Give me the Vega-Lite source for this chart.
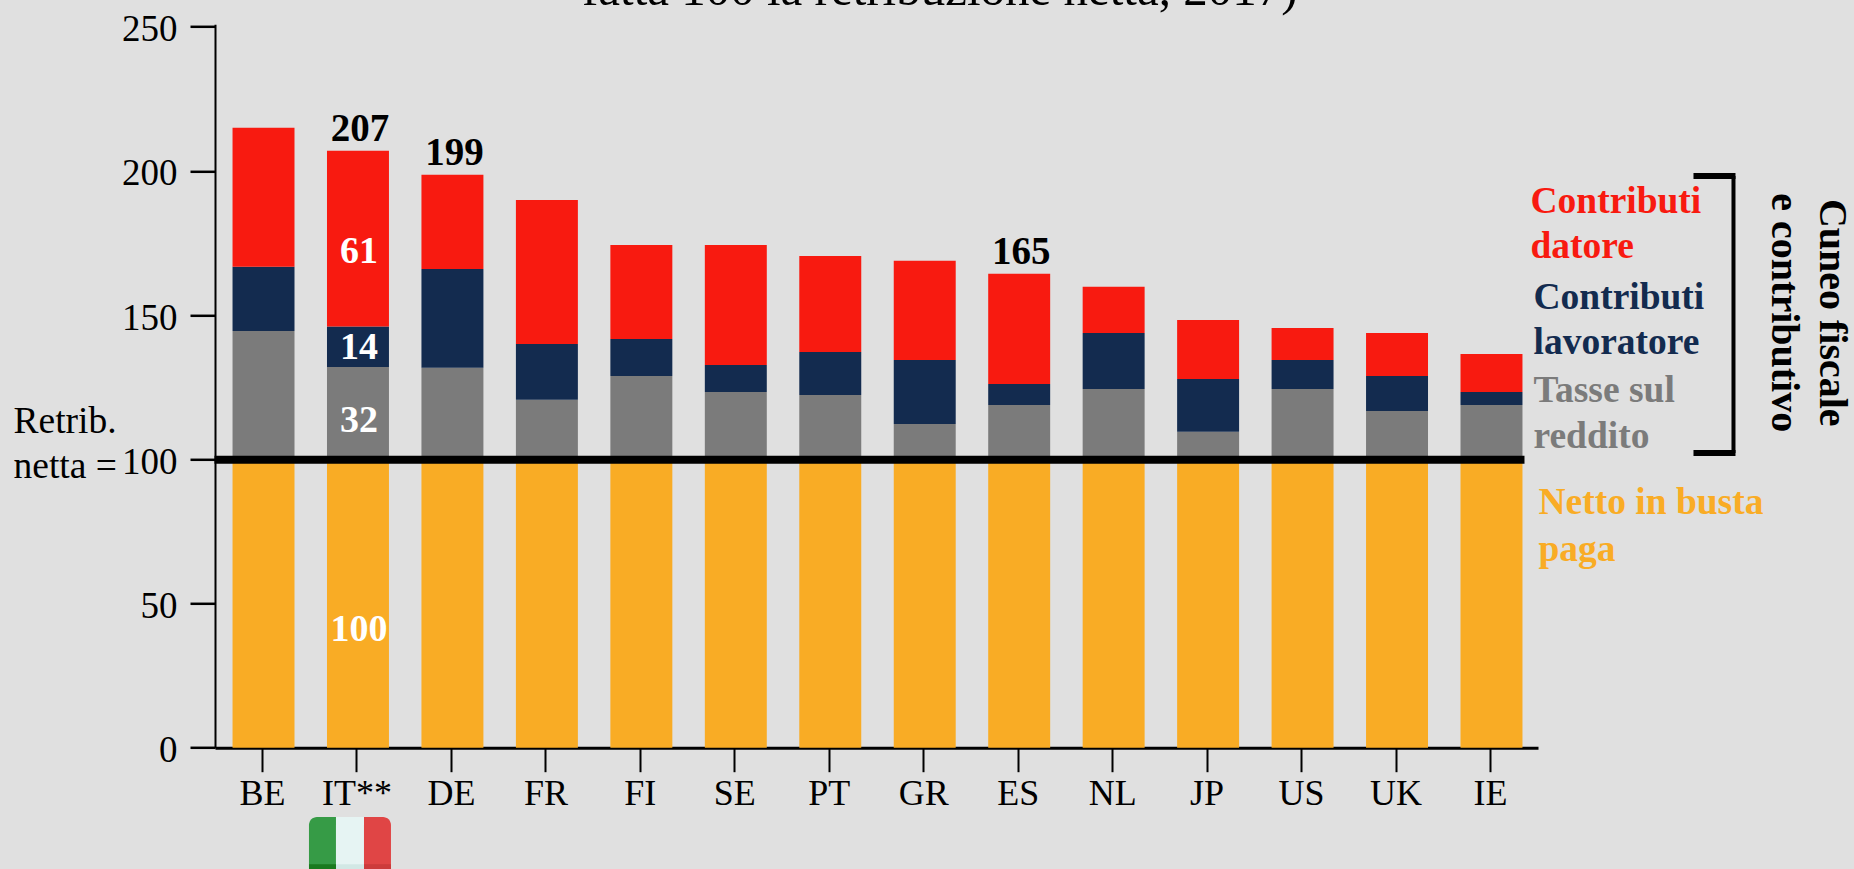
{
"$schema":"https://vega.github.io/schema/vega-lite/v6.json",
"autosize":{"type":"none"},
"padding":{"left":215,"top":24.3,"right":316,"bottom":121.6},
"width":1323,"height":723.4,
"background":"#E0E0E0",
"config":{"view":{"stroke":null},"text":{"font":"Liberation Serif"}},
"datasets":{
"barre":[
{"paese":"BE","componente":"Netto in busta paga","ordine":1,"valore":100},{"paese":"BE","componente":"Tasse sul reddito","ordine":2,"valore":44.5},{"paese":"BE","componente":"Contributi lavoratore","ordine":3,"valore":22.2},{"paese":"BE","componente":"Contributi datore","ordine":4,"valore":48.2},
{"paese":"IT**","componente":"Netto in busta paga","ordine":1,"valore":100},{"paese":"IT**","componente":"Tasse sul reddito","ordine":2,"valore":32},{"paese":"IT**","componente":"Contributi lavoratore","ordine":3,"valore":14},{"paese":"IT**","componente":"Contributi datore","ordine":4,"valore":61},
{"paese":"DE","componente":"Netto in busta paga","ordine":1,"valore":100},{"paese":"DE","componente":"Tasse sul reddito","ordine":2,"valore":31.7},{"paese":"DE","componente":"Contributi lavoratore","ordine":3,"valore":34.3},{"paese":"DE","componente":"Contributi datore","ordine":4,"valore":32.6},
{"paese":"FR","componente":"Netto in busta paga","ordine":1,"valore":100},{"paese":"FR","componente":"Tasse sul reddito","ordine":2,"valore":20.6},{"paese":"FR","componente":"Contributi lavoratore","ordine":3,"valore":19.4},{"paese":"FR","componente":"Contributi datore","ordine":4,"valore":49.9},
{"paese":"FI","componente":"Netto in busta paga","ordine":1,"valore":100},{"paese":"FI","componente":"Tasse sul reddito","ordine":2,"valore":28.9},{"paese":"FI","componente":"Contributi lavoratore","ordine":3,"valore":12.8},{"paese":"FI","componente":"Contributi datore","ordine":4,"valore":32.6},
{"paese":"SE","componente":"Netto in busta paga","ordine":1,"valore":100},{"paese":"SE","componente":"Tasse sul reddito","ordine":2,"valore":23.3},{"paese":"SE","componente":"Contributi lavoratore","ordine":3,"valore":9.4},{"paese":"SE","componente":"Contributi datore","ordine":4,"valore":41.6},
{"paese":"PT","componente":"Netto in busta paga","ordine":1,"valore":100},{"paese":"PT","componente":"Tasse sul reddito","ordine":2,"valore":22.3},{"paese":"PT","componente":"Contributi lavoratore","ordine":3,"valore":14.9},{"paese":"PT","componente":"Contributi datore","ordine":4,"valore":33.3},
{"paese":"GR","componente":"Netto in busta paga","ordine":1,"valore":100},{"paese":"GR","componente":"Tasse sul reddito","ordine":2,"valore":12.2},{"paese":"GR","componente":"Contributi lavoratore","ordine":3,"valore":22.2},{"paese":"GR","componente":"Contributi datore","ordine":4,"valore":34.4},
{"paese":"ES","componente":"Netto in busta paga","ordine":1,"valore":100},{"paese":"ES","componente":"Tasse sul reddito","ordine":2,"valore":18.8},{"paese":"ES","componente":"Contributi lavoratore","ordine":3,"valore":7.3},{"paese":"ES","componente":"Contributi datore","ordine":4,"valore":38.2},
{"paese":"NL","componente":"Netto in busta paga","ordine":1,"valore":100},{"paese":"NL","componente":"Tasse sul reddito","ordine":2,"valore":24.4},{"paese":"NL","componente":"Contributi lavoratore","ordine":3,"valore":19.4},{"paese":"NL","componente":"Contributi datore","ordine":4,"valore":16},
{"paese":"JP","componente":"Netto in busta paga","ordine":1,"valore":100},{"paese":"JP","componente":"Tasse sul reddito","ordine":2,"valore":9.5},{"paese":"JP","componente":"Contributi lavoratore","ordine":3,"valore":18.3},{"paese":"JP","componente":"Contributi datore","ordine":4,"valore":20.5},
{"paese":"US","componente":"Netto in busta paga","ordine":1,"valore":100},{"paese":"US","componente":"Tasse sul reddito","ordine":2,"valore":24.4},{"paese":"US","componente":"Contributi lavoratore","ordine":3,"valore":10},{"paese":"US","componente":"Contributi datore","ordine":4,"valore":11.1},
{"paese":"UK","componente":"Netto in busta paga","ordine":1,"valore":100},{"paese":"UK","componente":"Tasse sul reddito","ordine":2,"valore":16.7},{"paese":"UK","componente":"Contributi lavoratore","ordine":3,"valore":12.2},{"paese":"UK","componente":"Contributi datore","ordine":4,"valore":14.9},
{"paese":"IE","componente":"Netto in busta paga","ordine":1,"valore":100},{"paese":"IE","componente":"Tasse sul reddito","ordine":2,"valore":18.8},{"paese":"IE","componente":"Contributi lavoratore","ordine":3,"valore":4.5},{"paese":"IE","componente":"Contributi datore","ordine":4,"valore":13.2}
]},
"encoding":{
"x":{"field":"paese","type":"nominal","sort":null,"scale":{"domain":["BE","IT**","DE","FR","FI","SE","PT","GR","ES","NL","JP","US","UK","IE"],"paddingInner":0.344,"paddingOuter":0.175},
"axis":{"title":null,"labelAngle":0,"labelFont":"Liberation Serif","labelFontSize":36,"labelColor":"#000000","labelPadding":5,"tickSize":24,"tickWidth":2,"tickColor":"#000000","domainWidth":3,"domainColor":"#000000"}}
},
"layer":[
{"data":{"name":"barre"},"mark":{"type":"bar","clip":false,"xOffset":1},
"encoding":{
"y":{"field":"valore","type":"quantitative","stack":"zero","scale":{"domain":[0,250.8],"nice":false},
"axis":{"title":null,"values":[0,50,100,150,200,250],"grid":false,"labelFont":"Liberation Serif","labelFontSize":37,"labelColor":"#000000","labelPadding":13,"labelOffset":3,"tickSize":25,"tickWidth":2.5,"tickColor":"#000000","domainWidth":2,"domainColor":"#000000"}},
"color":{"field":"componente","type":"nominal","legend":null,"scale":{"domain":["Netto in busta paga","Tasse sul reddito","Contributi lavoratore","Contributi datore"],"range":["#F9AC25","#7B7B7B","#132B4F","#F81A10"]}},
"order":{"field":"ordine","type":"quantitative"}}},
{"data":{"values":[{"da":"BE","a":"IE","livello":99.8}]},"mark":{"type":"rule","color":"#000000","strokeWidth":8,"xOffset":-48,"x2Offset":34},
"encoding":{"x":{"field":"da"},"x2":{"field":"a"},"y":{"field":"livello","type":"quantitative"}}},
{"data":{"values":[{"paese":"IE","livello":198.2},{"paese":"IE","livello":102.2}]},"mark":{"type":"rule","color":"#000000","strokeWidth":6,"xOffset":203,"x2Offset":245},
"encoding":{"x":{"field":"paese"},"x2":{"field":"paese"},"y":{"field":"livello","type":"quantitative"}}},
{"data":{"values":[{"paese":"IE","sopra":198.2,"sotto":102.2}]},"mark":{"type":"rule","color":"#000000","strokeWidth":4,"xOffset":243},
"encoding":{"x":{"field":"paese"},"y":{"field":"sopra","type":"quantitative"},"y2":{"field":"sotto"}}},
{"data":{"values":[{"paese":"GR","riga":"fatta 100 la retribuzione netta, 2017)","livello":257.5}]},"mark":{"type":"text","fontSize":49,"color":"#000000","align":"center","baseline":"alphabetic","xOffset":16},
"encoding":{"y":{"field":"livello","type":"quantitative"},"text":{"field":"riga"}}},
{"data":{"values":[{"paese":"IT**","etichetta":"207","livello":210.5},{"paese":"DE","etichetta":"199","livello":202},{"paese":"ES","etichetta":"165","livello":167.7}]},"mark":{"type":"text","fontSize":39,"fontWeight":"bold","color":"#000000","align":"center","baseline":"alphabetic","xOffset":3},
"encoding":{"y":{"field":"livello","type":"quantitative"},"text":{"field":"etichetta"}}},
{"data":{"values":[{"paese":"IT**","etichetta":"61","livello":168},{"paese":"IT**","etichetta":"14","livello":134.8},{"paese":"IT**","etichetta":"32","livello":109.5},{"paese":"IT**","etichetta":"100","livello":37.1}]},"mark":{"type":"text","fontSize":38,"fontWeight":"bold","color":"#FFFFFF","align":"center","baseline":"alphabetic","xOffset":2},
"encoding":{"y":{"field":"livello","type":"quantitative"},"text":{"field":"etichetta"}}},
{"data":{"values":[{"paese":"IE","riga":"Contributi","componente":"Contributi datore","livello":185.4},{"paese":"IE","riga":"datore","componente":"Contributi datore","livello":169.8}]},"mark":{"type":"text","fontSize":37.5,"fontWeight":"bold","align":"left","baseline":"alphabetic","xOffset":40},
"encoding":{"y":{"field":"livello","type":"quantitative"},"text":{"field":"riga"},"color":{"field":"componente","type":"nominal","legend":null}}},
{"data":{"values":[{"paese":"IE","riga":"Contributi","componente":"Contributi lavoratore","livello":152.1},{"paese":"IE","riga":"lavoratore","componente":"Contributi lavoratore","livello":136.5},{"paese":"IE","riga":"Tasse sul","componente":"Tasse sul reddito","livello":119.9},{"paese":"IE","riga":"reddito","componente":"Tasse sul reddito","livello":103.9}]},"mark":{"type":"text","fontSize":37.5,"fontWeight":"bold","align":"left","baseline":"alphabetic","xOffset":43},
"encoding":{"y":{"field":"livello","type":"quantitative"},"text":{"field":"riga"},"color":{"field":"componente","type":"nominal","legend":null}}},
{"data":{"values":[{"paese":"IE","riga":"Netto in busta","componente":"Netto in busta paga","livello":81},{"paese":"IE","riga":"paga","componente":"Netto in busta paga","livello":64.8}]},"mark":{"type":"text","fontSize":37.5,"fontWeight":"bold","align":"left","baseline":"alphabetic","xOffset":48},
"encoding":{"y":{"field":"livello","type":"quantitative"},"text":{"field":"riga"},"color":{"field":"componente","type":"nominal","legend":null}}},
{"data":{"values":[{"paese":"BE","riga":"Retrib.","livello":109.1},{"paese":"BE","riga":"netta =","livello":93.5}]},"mark":{"type":"text","fontSize":37.5,"color":"#000000","align":"left","baseline":"alphabetic","xOffset":-249},
"encoding":{"y":{"field":"livello","type":"quantitative"},"text":{"field":"riga"}}},
{"data":{"values":[{"paese":"IE","riga":"e contributivo","livello":150.8}]},"mark":{"type":"text","fontSize":40,"fontWeight":"bold","color":"#000000","align":"center","baseline":"alphabetic","angle":90,"xOffset":282},
"encoding":{"y":{"field":"livello","type":"quantitative"},"text":{"field":"riga"}}},
{"data":{"values":[{"paese":"IE","riga":"Cuneo fiscale","livello":150.8}]},"mark":{"type":"text","fontSize":40,"fontWeight":"bold","color":"#000000","align":"center","baseline":"alphabetic","angle":90,"xOffset":330},
"encoding":{"y":{"field":"livello","type":"quantitative"},"text":{"field":"riga"}}},
{"data":{"values":[{"paese":"IT**","alto":-24,"basso":-44}]},"mark":{"type":"bar","color":"#369B46","size":27,"xOffset":-34.5,"cornerRadiusTopLeft":8,"clip":false},
"encoding":{"y":{"field":"alto","type":"quantitative"},"y2":{"field":"basso"}}},
{"data":{"values":[{"paese":"IT**","alto":-24,"basso":-44}]},"mark":{"type":"bar","color":"#E6F4F3","size":28,"xOffset":-7,"clip":false},
"encoding":{"y":{"field":"alto","type":"quantitative"},"y2":{"field":"basso"}}},
{"data":{"values":[{"paese":"IT**","alto":-24,"basso":-44}]},"mark":{"type":"bar","color":"#E04545","size":27,"xOffset":20.5,"cornerRadiusTopRight":8,"clip":false},
"encoding":{"y":{"field":"alto","type":"quantitative"},"y2":{"field":"basso"}}},
{"data":{"values":[{"paese":"IT**","alto":-40.4,"basso":-44}]},"mark":{"type":"bar","color":"#1A7A1E","size":27,"xOffset":-34.5,"clip":false},
"encoding":{"y":{"field":"alto","type":"quantitative"},"y2":{"field":"basso"}}},
{"data":{"values":[{"paese":"IT**","alto":-40.4,"basso":-44}]},"mark":{"type":"bar","color":"#D2E8E5","size":28,"xOffset":-7,"clip":false},
"encoding":{"y":{"field":"alto","type":"quantitative"},"y2":{"field":"basso"}}},
{"data":{"values":[{"paese":"IT**","alto":-40.4,"basso":-44}]},"mark":{"type":"bar","color":"#CC3B3B","size":27,"xOffset":20.5,"clip":false},
"encoding":{"y":{"field":"alto","type":"quantitative"},"y2":{"field":"basso"}}}
]
}
